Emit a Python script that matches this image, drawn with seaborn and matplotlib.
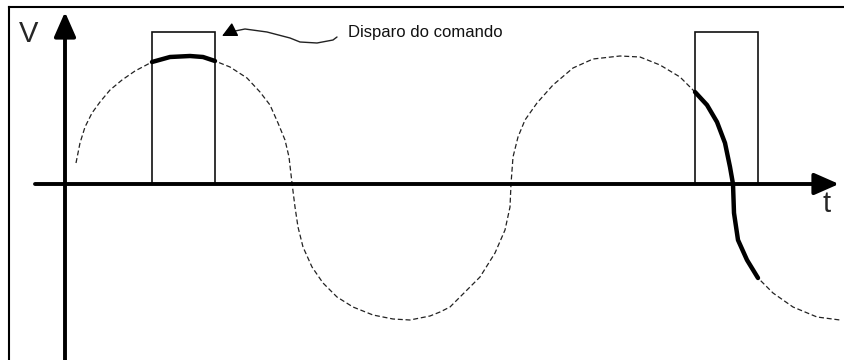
import numpy as np
import seaborn as sns
import matplotlib
matplotlib.use("Agg")
import matplotlib.pyplot as plt

# --- Datos (t, V medidos respecto al origen de los ejes) ---
onda_t = [11, 15, 20, 27, 35, 45, 57, 70, 87, 105, 125, 138, 150, 165, 182, 195,
          205, 213, 220, 224, 227, 230, 233, 238, 247, 258, 272, 288, 308, 328,
          345, 365, 375, 385, 395, 415, 430, 440, 445, 446, 448, 453, 460, 472,
          488, 508, 528, 555, 575, 595, 615, 630, 642, 652, 660, 665, 668, 669,
          673, 682, 693, 708, 728, 752, 775]
onda_v = [21, 41, 57, 71, 82, 94, 104, 113, 122, 127, 128, 127, 123, 117, 106, 92,
          79, 61, 44, 27, 1, -23, -43, -63, -83, -99, -113, -123, -131, -135,
          -136, -132, -128, -123, -113, -93, -69, -46, -23, 0, 27, 47, 64, 81,
          99, 116, 125, 128, 127, 119, 107, 92, 79, 62, 41, 17, 0, -29,
          -56, -76, -94, -109, -123, -133, -136]

# pulsos de disparo
pulso_inicio = [87, 630]
pulso_fin = [150, 693]
pulso_altura = [152, 152]

# curva de la anotación
nota_t = [157, 165, 180, 202, 225, 235, 252, 268, 272]
nota_v = [148, 152, 155, 152, 146, 142, 141, 144, 147]
nota_texto = "Disparo do comando"

# --- Figura ---
sns.set_style("white")
plt.rcParams["font.family"] = ["Liberation Sans", "DejaVu Sans"]

fig = plt.figure(figsize=(8.45, 3.6), dpi=100)
ax = fig.add_axes([0, 0, 1, 1])
ax.set_xlim(-65, 780)
ax.set_ylim(-176, 184)
ax.axis("off")

# marco
ax.plot([-56, -56], [-176, 177], color="black", lw=1.5, solid_capstyle="projecting")
ax.plot([-56, 780], [177, 177], color="black", lw=1.5, solid_capstyle="projecting")

# onda completa (punteada)
sns.lineplot(x=onda_t, y=onda_v, sort=False, estimator=None, ax=ax,
             color="#222222", lw=0.9, linestyle=(0, (4, 2.2)))

# tramos gruesos dentro de cada pulso
t_arr = np.array(onda_t)
v_arr = np.array(onda_v)
for ini, fin in zip(pulso_inicio, pulso_fin):
    m = (t_arr >= ini) & (t_arr <= fin)
    sns.lineplot(x=t_arr[m], y=v_arr[m], sort=False, estimator=None, ax=ax,
                 color="black", lw=3.2, solid_capstyle="round")

# pulsos
ancho = [f - i for i, f in zip(pulso_inicio, pulso_fin)]
ax.bar(pulso_inicio, pulso_altura, width=ancho, align="edge", fill=False,
       edgecolor="#111111", lw=1.2)

# ejes con flechas
flecha = dict(arrowstyle="-|>,head_length=0.75,head_width=0.33", lw=2.8,
              color="black", mutation_scale=20, shrinkA=0, shrinkB=0)
ax.annotate("", xy=(774, 0), xytext=(-30, 0), arrowprops=flecha)
ax.annotate("", xy=(0, 172), xytext=(0, -176), arrowprops=flecha)
ax.text(-36, 150, "V", fontsize=21, ha="center", va="center")
ax.text(762, -20, "t", fontsize=21, ha="center", va="center")

# anotación
sns.lineplot(x=nota_t[1:], y=nota_v[1:], sort=False, estimator=None, ax=ax,
             color="#222222", lw=1.0)
ax.annotate("", xy=(nota_t[0], nota_v[0]), xytext=(nota_t[1], nota_v[1]),
            arrowprops=dict(arrowstyle="-|>,head_length=0.6,head_width=0.3",
                            color="black", lw=1.0, mutation_scale=15,
                            shrinkA=0, shrinkB=0))
ax.text(283, 151, nota_texto, fontsize=12, ha="left", va="center", color="#111111")

fig.savefig("out.png", dpi=100)
